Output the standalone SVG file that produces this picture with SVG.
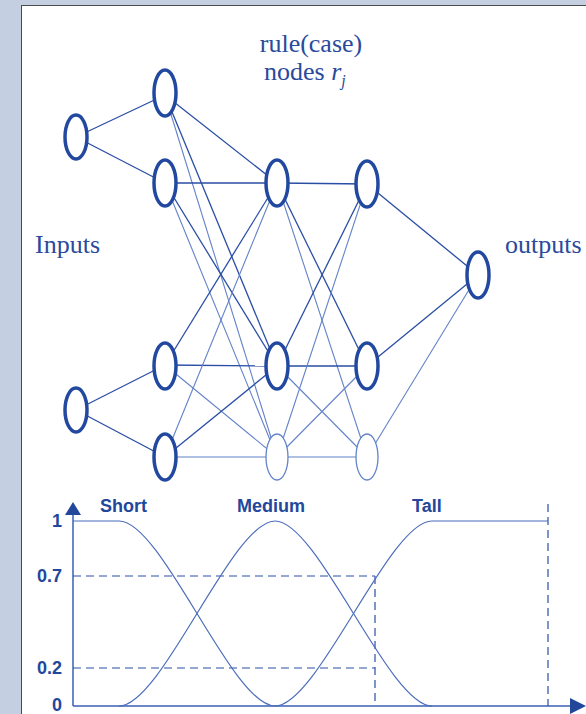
<svg xmlns="http://www.w3.org/2000/svg" width="586" height="714" viewBox="0 0 586 714">
<defs>
<style>
.serif{font-family:"Liberation Serif","Times New Roman",serif;fill:#2a4a9c;font-size:26px}
.lab{font-family:"Liberation Sans",Arial,sans-serif;font-weight:bold;fill:#22479b;font-size:18px}
.e{stroke:#2a4ea5;stroke-width:1.3;fill:none}
.el{stroke:#6382c8;stroke-width:1.1;fill:none}
.n{fill:#fff;stroke:#22499f;stroke-width:3.5}
.nt{fill:#fff;stroke:#6384c9;stroke-width:1.3}
.crv{stroke:#4b6dbb;stroke-width:1.2;fill:none}
.dash{stroke:#2b4fa6;stroke-width:1.2;stroke-dasharray:8 5;fill:none}
.ax{stroke:#3a5fb4;stroke-width:1.5;fill:none}
</style>
</defs>
<rect x="0" y="0" width="586" height="714" fill="#c4cfe2"/>
<rect x="21.5" y="5.5" width="580" height="720" fill="#ffffff" stroke="#4a4a4a" stroke-width="1"/>

<g id="labels">
<text class="serif" x="311" y="52" text-anchor="middle">rule(case)</text>
<text class="serif" x="264" y="80">nodes <tspan font-style="italic">r</tspan><tspan font-style="italic" font-size="16" dy="6">j</tspan></text>
<text class="serif" x="35" y="253">Inputs</text>
<text class="serif" x="505" y="253">outputs</text>
</g>

<g id="connectors">
<line class="e" x1="76" y1="137" x2="165" y2="95"/>
<line class="e" x1="76" y1="137" x2="165" y2="183"/>
<line class="e" x1="76" y1="410" x2="165" y2="365"/>
<line class="e" x1="76" y1="410" x2="165" y2="457"/>
<line class="e" x1="165" y1="95" x2="277" y2="183"/>
<line class="e" x1="165" y1="95" x2="277" y2="366"/>
<line class="el" x1="165" y1="95" x2="277" y2="457"/>
<line class="e" x1="165" y1="183" x2="277" y2="183"/>
<line class="e" x1="165" y1="183" x2="277" y2="366"/>
<line class="el" x1="165" y1="183" x2="277" y2="457"/>
<line class="e" x1="165" y1="365" x2="277" y2="183"/>
<line class="e" x1="165" y1="365" x2="277" y2="366"/>
<line class="el" x1="165" y1="365" x2="277" y2="457"/>
<line class="el" x1="165" y1="457" x2="277" y2="183"/>
<line class="e" x1="165" y1="457" x2="277" y2="366"/>
<line class="el" x1="165" y1="457" x2="277" y2="457"/>
<line class="e" x1="277" y1="183" x2="367" y2="184"/>
<line class="e" x1="277" y1="183" x2="367" y2="366"/>
<line class="el" x1="277" y1="183" x2="367" y2="457"/>
<line class="e" x1="277" y1="366" x2="367" y2="184"/>
<line class="e" x1="277" y1="366" x2="367" y2="366"/>
<line class="el" x1="277" y1="366" x2="367" y2="457"/>
<line class="el" x1="277" y1="457" x2="367" y2="184"/>
<line class="el" x1="277" y1="457" x2="367" y2="366"/>
<line class="el" x1="277" y1="457" x2="367" y2="457"/>
<line class="e" x1="367" y1="184" x2="478" y2="275"/>
<line class="e" x1="367" y1="366" x2="478" y2="275"/>
<line class="el" x1="367" y1="457" x2="478" y2="275"/>
</g>

<g id="in1"><ellipse class="n" cx="76" cy="137" rx="11" ry="22"/></g>
<g id="in2"><ellipse class="n" cx="76" cy="410" rx="11" ry="22"/></g>
<g id="mf1"><ellipse class="n" cx="165" cy="93" rx="11" ry="23"/></g>
<g id="mf2"><ellipse class="n" cx="165" cy="183" rx="11" ry="23"/></g>
<g id="mf3"><ellipse class="n" cx="165" cy="366" rx="11" ry="23"/></g>
<g id="mf4"><ellipse class="n" cx="165" cy="457" rx="11" ry="23"/></g>
<g id="r1"><ellipse class="n" cx="277" cy="183" rx="11" ry="23"/></g>
<g id="r2"><ellipse class="n" cx="277" cy="366" rx="11" ry="23"/></g>
<g id="r3"><ellipse class="nt" cx="277" cy="457" rx="11" ry="23"/></g>
<g id="c1"><ellipse class="n" cx="367" cy="184" rx="11" ry="23"/></g>
<g id="c2"><ellipse class="n" cx="367" cy="366" rx="11" ry="23"/></g>
<g id="c3"><ellipse class="nt" cx="367" cy="457" rx="11" ry="23"/></g>
<g id="out"><ellipse class="n" cx="478" cy="275" rx="11" ry="23"/></g>

<g id="chart">
<line class="ax" x1="73" y1="512" x2="73" y2="706"/>
<polygon points="73,502 65,515 81,515" fill="#22479b"/>
<line class="ax" x1="73" y1="706" x2="572" y2="706"/>
<polygon points="586,706 570,698 570,714" fill="#22479b"/>
<path class="dash" d="M73,576 H375 M73,668 H375 M375,576 V706 M548,504 V706"/>
<path class="crv" d="M73,521 H119 C162,521 232,706 275,706"/>
<path class="crv" d="M119,706 C162,706 232,521 275,521 C318,521 389,706 432,706"/>
<path class="crv" d="M275,706 C318,706 389,521 432,521 H548"/>
<text class="lab" x="100" y="512">Short</text>
<text class="lab" x="237" y="512">Medium</text>
<text class="lab" x="412" y="512">Tall</text>
<text class="lab" x="62" y="527" text-anchor="end">1</text>
<text class="lab" x="62" y="582" text-anchor="end">0.7</text>
<text class="lab" x="62" y="674" text-anchor="end">0.2</text>
<text class="lab" x="62" y="711" text-anchor="end" font-size="16">0</text>
</g>
</svg>
